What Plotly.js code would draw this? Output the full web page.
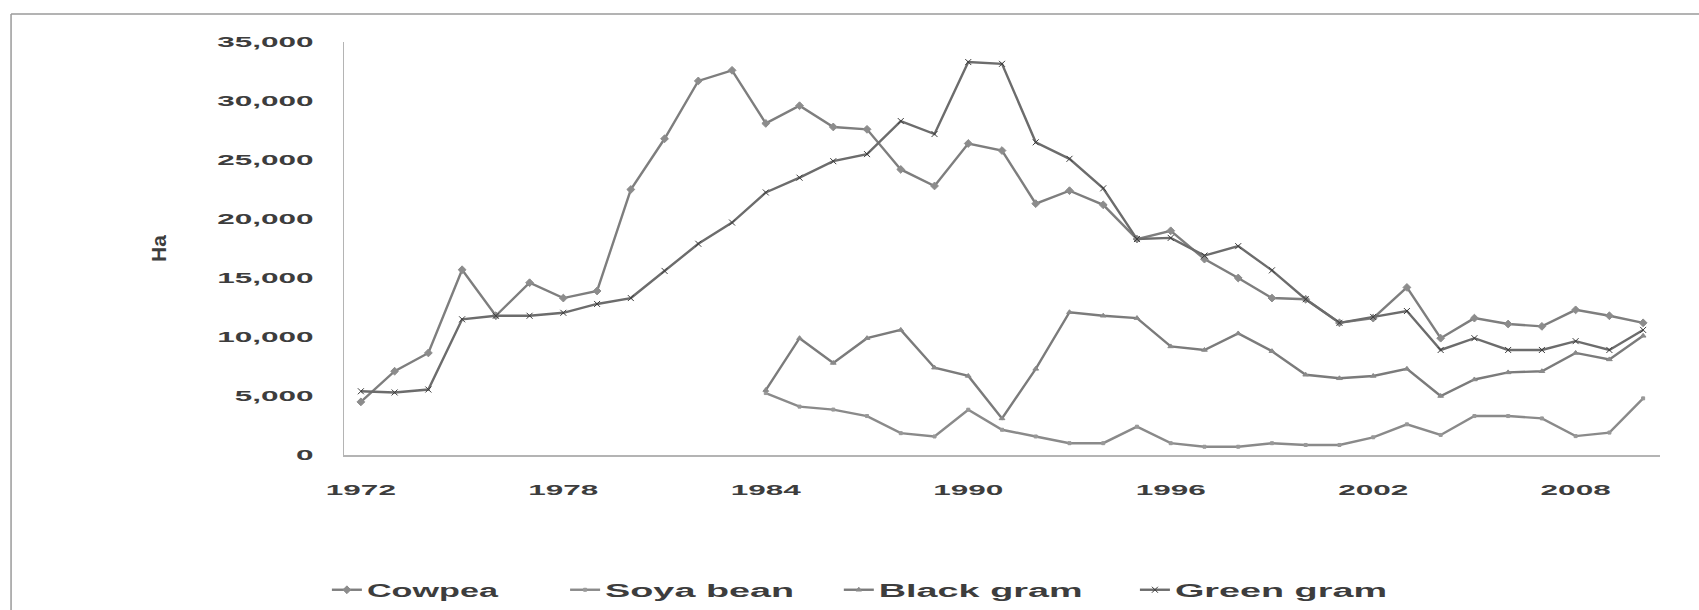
<!DOCTYPE html>
<html>
<head>
<meta charset="utf-8">
<script src="https://cdn.plot.ly/plotly-3.0.1.min.js"></script>
<style>
html,body{margin:0;padding:0;background:#ffffff;}
#chart{width:1699px;height:610px;}
/* the reference legend text is widened horizontally */
#chart .infolayer [class*="legend"] text,
#chart text.legendtext{transform-box:fill-box;transform-origin:0% 50%;transform:scaleX(2.1);}
#chart .infolayer g.legend text{transform:scaleX(1.9);}
</style>
</head>
<body>
<div id="chart"></div>
<script>
// ---- data (hectares) ----
const years = [1972,1973,1974,1975,1976,1977,1978,1979,1980,1981,1982,1983,1984,1985,1986,1987,1988,1989,1990,1991,1992,1993,1994,1995,1996,1997,1998,1999,2000,2001,2002,2003,2004,2005,2006,2007,2008,2009,2010];
const tickYears = [1972,1978,1984,1990,1996,2002,2008];
const tickLabels = ['1972','1978','1984','1990','1996','2002','2008'];
const seriesNames = ['Cowpea','Soya bean','Black gram','Green gram'];

const cowpea = [4500,7100,8650,15700,11800,14600,13300,13900,22500,26800,31700,32600,28100,29600,27800,27600,24200,22800,26400,25800,21300,22400,21200,18300,19000,16600,15000,13300,13200,11200,11600,14200,9900,11600,11100,10900,12300,11800,11200];
const soyaBean = [null,null,null,null,null,null,null,null,null,null,null,null,5250,4100,3850,3300,1850,1570,3840,2140,1570,1000,1000,2400,1000,700,700,1000,850,850,1500,2600,1700,3300,3300,3100,1600,1900,4800];
const blackGram = [null,null,null,null,null,null,null,null,null,null,null,null,5500,9900,7800,9900,10600,7400,6700,3100,7300,12100,11800,11600,9200,8900,10300,8800,6800,6500,6700,7300,5000,6400,7000,7100,8650,8100,10100];
const greenGram = [5400,5300,5550,11500,11800,11800,12050,12800,13300,15600,17900,19700,22250,23500,24900,25500,28300,27200,33300,33150,26500,25100,22600,18300,18400,16900,17700,15650,13200,11200,11700,12200,8900,9900,8900,8900,9650,8900,10600];

const TXT = '#3d3d3d';
const FONT = 'Liberation Sans';

function mk(name, y, lineColor, sym, msize, mcolor, legendId) {
  return {
    type: 'scatter', mode: 'lines+markers', name: name, x: years, y: y,
    connectgaps: false, legend: legendId,
    line: {color: lineColor, width: 2.4},
    marker: {symbol: sym, size: msize, color: mcolor, line: {width: 1, color: mcolor}}
  };
}

const data = [
  mk(seriesNames[0], cowpea,   '#7e7e7e', 'diamond', 6, '#8c8c8c', 'legend'),
  mk(seriesNames[1], soyaBean, '#8a8a8a', 'square', 3, '#999999', 'legend2'),
  mk(seriesNames[2], blackGram,'#7b7b7b', 'triangle-up', 5, '#8a8a8a', 'legend3'),
  mk(seriesNames[3], greenGram,'#6c6c6c', 'x-thin', 6, '#3c3c3c', 'legend4')
];

function legendAt(x) {
  return {orientation: 'h', x: x, y: -0.327, xanchor: 'left', yanchor: 'middle',
    bgcolor: 'rgba(0,0,0,0)', borderwidth: 0, itemwidth: 30,
    entrywidth: 240, entrywidthmode: 'pixels',
    font: {family: FONT, size: 18, color: TXT, weight: 700}};
}

const layout = {
  width: 1699, height: 610,
  margin: {l: 344, r: 39, t: 42, b: 155, pad: 0, autoexpand: false},
  paper_bgcolor: '#ffffff', plot_bgcolor: '#ffffff',
  showlegend: true,
  xaxis: {
    range: [1971.5, 2010.5], tickmode: 'array', tickvals: tickYears, ticktext: tickLabels,
    showgrid: false, zeroline: false, showline: true, linecolor: '#b4b4b4', linewidth: 1.5,
    ticks: '', ticklabelstandoff: 20, automargin: false,
    tickfont: {family: FONT, size: 15, color: TXT, weight: 700}
  },
  yaxis: {
    range: [0, 35000], dtick: 5000, tick0: 0, tickformat: ',d',
    showgrid: false, zeroline: false, showline: true, linecolor: '#b4b4b4', linewidth: 1.5,
    ticks: '', ticklabelstandoff: 26, automargin: false,
    tickfont: {family: FONT, size: 15, color: TXT, weight: 700},
    title: {text: 'Ha', standoff: 95, font: {family: FONT, size: 21, color: TXT, weight: 700}}
  },
  legend: legendAt(-0.013),
  legend2: legendAt(0.168),
  legend3: legendAt(0.376),
  legend4: legendAt(0.601),
  shapes: [
    {type: 'line', xref: 'paper', yref: 'paper', x0: -0.253, x1: -0.253, y0: -0.38, y1: 1.068,
     line: {color: '#9a9a9a', width: 1.5}},
    {type: 'line', xref: 'paper', yref: 'paper', x0: -0.253, x1: 1.03, y0: 1.068, y1: 1.068,
     line: {color: '#9a9a9a', width: 1.5}}
  ]
};

const gd = document.getElementById('chart');
const ctx = document.createElement('canvas').getContext('2d');

// widen tick text horizontally (the reference text is stretched), keeping it real SVG text
function stretch(nodes, f, px) {
  ctx.font = 'bold ' + px + 'px "' + FONT + '"';
  nodes.forEach(function (t) {
    if (t.getAttribute('data-stretched')) return;
    const s = t.textContent || '';
    if (!s) return;
    const w = ctx.measureText(s).width;
    t.setAttribute('textLength', (w * f).toFixed(1));
    t.setAttribute('lengthAdjust', 'spacingAndGlyphs');
    t.setAttribute('data-stretched', '1');
  });
}
function stretchAll() {
  stretch(gd.querySelectorAll('.xtick text, .ytick text'), 2.1, 15);
  gd.querySelectorAll('.scrollbox').forEach(function (s) {
    s.removeAttribute('clip-path');
  });
}

Plotly.newPlot(gd, data, layout, {staticPlot: true, displayModeBar: false}).then(function () {
  stretchAll();
  requestAnimationFrame(stretchAll);
  setTimeout(stretchAll, 30);
});
</script>
</body>
</html>
